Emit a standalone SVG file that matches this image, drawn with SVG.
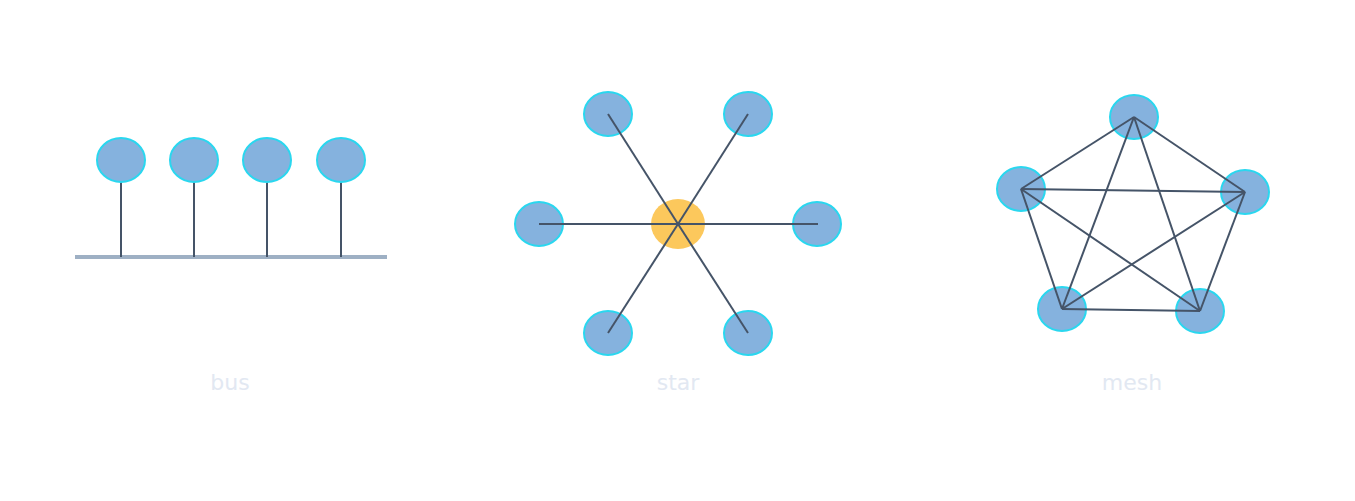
<svg xmlns="http://www.w3.org/2000/svg" width="1355" height="501" viewBox="0 0 1355 501">
<style>
.node{fill:#85b2de;stroke:#2ad7ef;stroke-width:2}
.hub{fill:#fcc85c}
.link{stroke:#455468;stroke-width:2;fill:none;stroke-linecap:butt}
.busline{stroke:#9eb0c4;stroke-width:4}
.label{font-family:"DejaVu Sans",sans-serif;font-size:22px;fill:#e2e8f2;text-anchor:middle}
</style>
<rect width="1355" height="501" fill="#ffffff"/>
<g id="connectors">
<line class="busline" x1="75" y1="257" x2="387" y2="257"/>
<line class="link" x1="121" y1="182" x2="121" y2="257"/>
<line class="link" x1="194" y1="182" x2="194" y2="257"/>
<line class="link" x1="267" y1="182" x2="267" y2="257"/>
<line class="link" x1="341" y1="182" x2="341" y2="257"/>
</g>
<g id="bus-node-1"><ellipse class="node" cx="121" cy="160" rx="24" ry="22"/></g>
<g id="bus-node-2"><ellipse class="node" cx="194" cy="160" rx="24" ry="22"/></g>
<g id="bus-node-3"><ellipse class="node" cx="267" cy="160" rx="24" ry="22"/></g>
<g id="bus-node-4"><ellipse class="node" cx="341" cy="160" rx="24" ry="22"/></g>
<g id="star-hub"><ellipse class="hub" cx="678" cy="224" rx="27" ry="25"/></g>
<g id="star-node-1"><ellipse class="node" cx="608" cy="114" rx="24" ry="22"/></g>
<g id="star-node-2"><ellipse class="node" cx="748" cy="114" rx="24" ry="22"/></g>
<g id="star-node-3"><ellipse class="node" cx="539" cy="224" rx="24" ry="22"/></g>
<g id="star-node-4"><ellipse class="node" cx="817" cy="224" rx="24" ry="22"/></g>
<g id="star-node-5"><ellipse class="node" cx="608" cy="333" rx="24" ry="22"/></g>
<g id="star-node-6"><ellipse class="node" cx="748" cy="333" rx="24" ry="22"/></g>
<g id="mesh-node-1"><ellipse class="node" cx="1134" cy="117" rx="24" ry="22"/></g>
<g id="mesh-node-2"><ellipse class="node" cx="1021" cy="189" rx="24" ry="22"/></g>
<g id="mesh-node-3"><ellipse class="node" cx="1245" cy="192" rx="24" ry="22"/></g>
<g id="mesh-node-4"><ellipse class="node" cx="1062" cy="309" rx="24" ry="22"/></g>
<g id="mesh-node-5"><ellipse class="node" cx="1200" cy="311" rx="24" ry="22"/></g>
<g id="connectors-overlay">
<line class="link" x1="678" y1="224" x2="608" y2="114"/>
<line class="link" x1="678" y1="224" x2="748" y2="114"/>
<line class="link" x1="678" y1="224" x2="539" y2="224"/>
<line class="link" x1="678" y1="224" x2="818" y2="224"/>
<line class="link" x1="678" y1="224" x2="608" y2="333"/>
<line class="link" x1="678" y1="224" x2="748" y2="333"/>
<line class="link" x1="1134" y1="117" x2="1021" y2="189"/>
<line class="link" x1="1134" y1="117" x2="1245" y2="192"/>
<line class="link" x1="1134" y1="117" x2="1062" y2="309"/>
<line class="link" x1="1134" y1="117" x2="1200" y2="311"/>
<line class="link" x1="1021" y1="189" x2="1245" y2="192"/>
<line class="link" x1="1021" y1="189" x2="1062" y2="309"/>
<line class="link" x1="1021" y1="189" x2="1200" y2="311"/>
<line class="link" x1="1245" y1="192" x2="1062" y2="309"/>
<line class="link" x1="1245" y1="192" x2="1200" y2="311"/>
<line class="link" x1="1062" y1="309" x2="1200" y2="311"/>
</g>
<g id="labels">
<text class="label" x="230" y="390">bus</text>
<text class="label" x="678" y="390">star</text>
<text class="label" x="1132" y="390">mesh</text>
</g>
</svg>
